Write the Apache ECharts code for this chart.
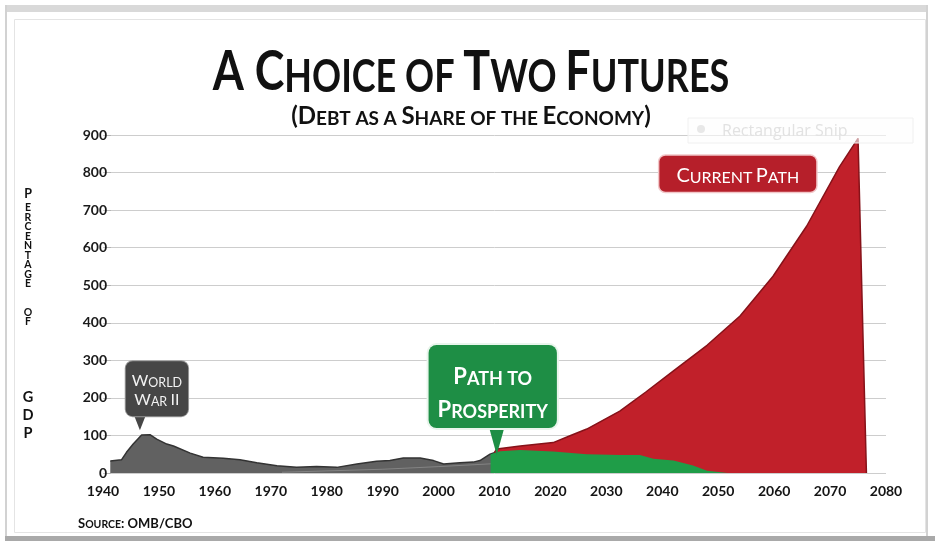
<!DOCTYPE html>
<html>
<head>
<meta charset="utf-8">
<script src="https://cdn.jsdelivr.net/npm/echarts@6/dist/echarts.min.js"></script>
<style>
  html, body { margin: 0; padding: 0; background: #fff; }
  #main { width: 935px; height: 541px; }
</style>
</head>
<body>
<div id="main"></div>
<script>
// tick labels
var yearTicks = [1940, 1950, 1960, 1970, 1980, 1990, 2000, 2010, 2020, 2030, 2040, 2050, 2060, 2070, 2080];
var pctTicks = [0, 100, 200, 300, 400, 500, 600, 700, 800, 900];

// historical debt (grey)
var historyYears = [1941.3, 1943.3, 1944.2, 1945.4, 1946.9, 1948.4, 1949.6, 1951.4, 1952.6, 1955.6, 1957.9, 1961.5, 1964.5, 1967.5, 1971.1, 1974.6, 1978.2, 1981.8, 1985.4, 1988.9, 1991.3, 1993.7, 1996.7, 1999.1, 2000.9, 2003.8, 2006.2, 2007.4, 2009.2, 2010.1];
var historyDebt  = [32, 35, 55, 77, 101, 102, 90, 77, 72, 53, 42, 39, 35, 27, 19, 15, 17, 15, 24, 31, 33, 40, 40, 33, 24, 27, 29, 33, 50, 55];

// faint line inside the grey area
var innerYears = [1972, 1990, 2000, 2010];
var innerDebt  = [2, 10, 17, 25];

// current path (red)
var currentYears = [2010, 2010.4, 2014.6, 2020.5, 2023.5, 2026.5, 2032.4, 2037, 2042, 2048, 2053.9, 2059.8, 2065.8, 2071.7, 2075, 2076.5];
var currentDebt  = [55, 64, 72, 81, 99, 117, 165, 215, 272, 340, 418, 524, 657, 816, 891, 0];

// path to prosperity (green)
var prosperityYears = [2009.3, 2011, 2014.6, 2020.5, 2026.5, 2032.4, 2036, 2038.4, 2042, 2045.5, 2048, 2051.7];
var prosperityDebt  = [50, 58, 61, 57, 50, 48, 48, 38, 33, 20, 6, 0];

function pairs(xs, ys) {
  return xs.map(function (x, i) { return [x, ys[i]]; });
}

var chart = echarts.init(document.getElementById('main'));

chart.setOption({
  animation: false,
  backgroundColor: '#ffffff',
  grid: { left: 103, right: 49, top: 135, bottom: 68 },
  xAxis: {
    type: 'value',
    min: yearTicks[0],
    max: yearTicks[yearTicks.length - 1],
    interval: yearTicks[1] - yearTicks[0],
    axisLine: { show: false },
    axisTick: { show: false },
    splitLine: { show: false },
    axisLabel: {
      fontFamily: 'Lato', fontWeight: 'bold', fontSize: 14, color: '#141414', margin: 11,
      formatter: function (v) { return String(v); }
    }
  },
  yAxis: {
    type: 'value',
    min: pctTicks[0],
    max: pctTicks[pctTicks.length - 1],
    interval: pctTicks[1] - pctTicks[0],
    offset: -8,
    axisLine: { show: false },
    axisTick: { show: true, length: 6, lineStyle: { color: '#b5b5b5' } },
    splitLine: { lineStyle: { color: '#cdcdcd' } },
    axisLabel: { fontFamily: 'Lato', fontWeight: 'bold', fontSize: 14, color: '#1a1a1a', margin: 4 }
  },
  series: [
    {
      name: 'History',
      type: 'line',
      data: pairs(historyYears, historyDebt),
      symbol: 'none',
      z: 2,
      lineStyle: { color: '#333333', width: 1.5 },
      areaStyle: { color: '#616161', opacity: 1 },
      markPoint: {
        symbol: 'triangle',
        symbolRotate: 180,
        symbolSize: [11, 14],
        symbolOffset: [0, '-50%'],
        itemStyle: { color: '#464646' },
        data: [{
          coord: [1946.6, 114],
          label: {
            show: true,
            position: 'top',
            distance: 0,
            offset: [17, 0],
            formatter: '{b|W}{s|ORLD}\n{b|W}{s|AR} {b|II}',
            backgroundColor: '#464646',
            borderColor: '#9a9a9a',
            borderWidth: 1,
            borderRadius: 7,
            padding: [9, 6, 8, 6],
            rich: {
              b: { fontFamily: 'Lato', fontSize: 16, lineHeight: 19, color: '#f2f2f2', verticalAlign: 'bottom' },
              s: { fontFamily: 'Lato', fontSize: 12.5, lineHeight: 19, color: '#f2f2f2', verticalAlign: 'bottom' }
            }
          }
        }]
      }
    },
    {
      name: 'Inner',
      type: 'line',
      data: pairs(innerYears, innerDebt),
      symbol: 'none',
      z: 3,
      lineStyle: { color: 'rgba(255,255,255,0.22)', width: 1 }
    },
    {
      name: 'Current Path',
      type: 'line',
      data: pairs(currentYears, currentDebt),
      symbol: 'none',
      z: 3,
      lineStyle: { color: '#861219', width: 1.5 },
      areaStyle: { color: '#c1202a', opacity: 1 },
      markPoint: {
        symbol: 'rect',
        symbolSize: 1,
        itemStyle: { color: 'rgba(0,0,0,0)' },
        data: [{
          coord: [2053.5, 797],
          label: {
            show: true,
            position: 'inside',
            formatter: '{b|C}{s|URRENT} {b|P}{s|ATH}',
            backgroundColor: '#b61f2a',
            borderColor: '#f1c6c8',
            borderWidth: 1.5,
            borderRadius: 6,
            padding: [8, 17, 6, 17],
            rich: {
              b: { fontFamily: 'Lato', fontSize: 20, lineHeight: 22, color: '#ffffff', verticalAlign: 'bottom' },
              s: { fontFamily: 'Lato', fontSize: 16, lineHeight: 22, color: '#ffffff', verticalAlign: 'bottom' }
            }
          }
        }]
      }
    },
    {
      name: 'Path to Prosperity',
      type: 'line',
      data: pairs(prosperityYears, prosperityDebt),
      symbol: 'none',
      z: 4,
      lineStyle: { width: 0 },
      areaStyle: { color: '#1f9d48', opacity: 1 },
      markPoint: {
        symbol: 'triangle',
        symbolRotate: 180,
        symbolSize: [15, 27],
        symbolOffset: [0, '-50%'],
        itemStyle: { color: '#1e8e45' },
        data: [{
          coord: [2010.4, 48],
          label: {
            show: true,
            position: 'top',
            distance: 0,
            offset: [-4, 0],
            formatter: '{b|P}{s|ATH TO}\n{b|P}{s|ROSPERITY}',
            backgroundColor: '#1e8e45',
            borderColor: '#e9f5ec',
            borderWidth: 2,
            borderRadius: 8,
            padding: [10, 9, 7, 9],
            rich: {
              b: { fontFamily: 'Lato', fontWeight: 'bold', fontSize: 22, lineHeight: 33, color: '#ffffff', verticalAlign: 'bottom' },
              s: { fontFamily: 'Lato', fontWeight: 'bold', fontSize: 18, lineHeight: 33, color: '#ffffff', verticalAlign: 'bottom' }
            }
          }
        }]
      }
    }
  ],
  graphic: [
    // slide frame
    { type: 'rect', silent: true, z: -10, shape: { x: 5, y: 5, width: 923, height: 7 }, style: { fill: '#d9d9d9' } },
    { type: 'rect', silent: true, z: -10, shape: { x: 5, y: 5, width: 2, height: 533 }, style: { fill: '#d2d2d2' } },
    { type: 'rect', silent: true, z: -10, shape: { x: 926, y: 5, width: 2, height: 533 }, style: { fill: '#d2d2d2' } },
    { type: 'rect', silent: true, z: -10, shape: { x: 14.5, y: 19.5, width: 911, height: 513 }, style: { fill: 'none', stroke: '#e4e4e4', lineWidth: 1 } },
    { type: 'rect', silent: true, z: -10, shape: { x: 5, y: 536, width: 930, height: 5 }, style: { fill: '#a9a9a9' } },
    // leftover snip tool overlay
    { type: 'rect', silent: true, z: 5, shape: { x: 688, y: 118, width: 225, height: 25 }, style: { fill: 'rgba(253,253,253,0.6)', stroke: '#f0f0f0', lineWidth: 1 } },
    { type: 'circle', silent: true, z: 5, shape: { cx: 701, cy: 129, r: 4 }, style: { fill: '#e8e8e8' } },
    { type: 'text', silent: true, z: 5, x: 722, y: 131, style: { text: 'Rectangular Snip', fontFamily: 'Open Sans', fontSize: 16, fill: '#e2e2e2', verticalAlign: 'middle' } },
    // title
    {
      type: 'text', x: 471, y: 70, scaleX: 0.8,
      style: {
        text: '{b|A }{b|C}{s|HOICE OF }{b|T}{s|WO }{b|F}{s|UTURES}',
        align: 'center', verticalAlign: 'middle',
        rich: {
          b: { fontFamily: 'Lato', fontWeight: 'bold', fontSize: 56, lineHeight: 60, fill: '#111111', verticalAlign: 'bottom' },
          s: { fontFamily: 'Lato', fontWeight: 'bold', fontSize: 45, lineHeight: 60, fill: '#111111', verticalAlign: 'bottom' }
        }
      }
    },
    {
      type: 'text', x: 471, y: 114,
      style: {
        text: '{b|(D}{s|EBT AS A }{b|S}{s|HARE OF THE }{b|E}{s|CONOMY}{b|)}',
        align: 'center', verticalAlign: 'middle',
        rich: {
          b: { fontFamily: 'Lato', fontWeight: 'bold', fontSize: 24, lineHeight: 28, fill: '#111111', verticalAlign: 'bottom' },
          s: { fontFamily: 'Lato', fontWeight: 'bold', fontSize: 19, lineHeight: 28, fill: '#111111', verticalAlign: 'bottom' }
        }
      }
    },
    // vertical axis title
    {
      type: 'text', x: 28, y: 185,
      style: {
        text: '{p|P}\n{s|E}\n{s|R}\n{s|C}\n{s|E}\n{s|N}\n{s|T}\n{s|A}\n{s|G}\n{s|E}\n{s| }\n{s| }\n{s|O}\n{s|F}\n{g| }\n{b|G}\n{b|D}\n{b|P}',
        align: 'center', verticalAlign: 'top',
        rich: {
          p: { fontFamily: 'Lato', fontWeight: 'bold', fontSize: 12.5, lineHeight: 18, fill: '#111111', align: 'center' },
          s: { fontFamily: 'Lato', fontWeight: 'bold', fontSize: 10.5, lineHeight: 9.5, fill: '#111111', align: 'center' },
          g: { fontSize: 10, lineHeight: 61.5 },
          b: { fontFamily: 'Lato', fontWeight: 'bold', fontSize: 14.5, lineHeight: 18, fill: '#111111', align: 'center' }
        }
      }
    },
    // source note
    {
      type: 'text', x: 78, y: 522,
      style: {
        text: '{b|S}{s|OURCE}{b|: OMB/CBO}',
        align: 'left', verticalAlign: 'middle',
        rich: {
          b: { fontFamily: 'Lato', fontWeight: 'bold', fontSize: 13, lineHeight: 16, fill: '#111111', verticalAlign: 'bottom' },
          s: { fontFamily: 'Lato', fontWeight: 'bold', fontSize: 10.5, lineHeight: 16, fill: '#111111', verticalAlign: 'bottom' }
        }
      }
    }
  ]
});
</script>
</body>
</html>
